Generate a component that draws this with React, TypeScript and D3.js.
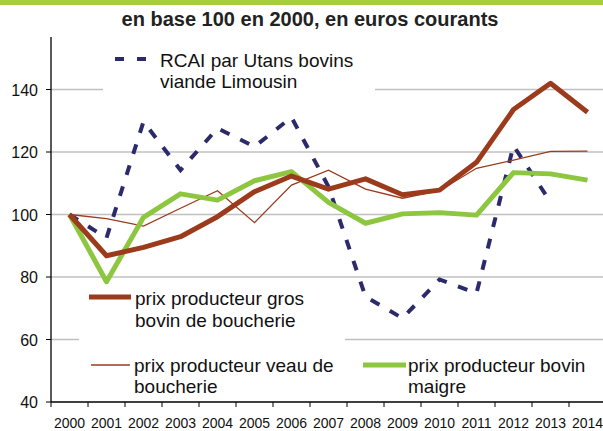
import React from "react";
import * as d3 from "d3";

const width = 603;
const height = 431;
const margin = { top: 37, right: -3, bottom: 29, left: 51 };

const years = ["2000", "2001", "2002", "2003", "2004", "2005", "2006", "2007", "2008", "2009", "2010", "2011", "2012", "2013", "2014"];
const yTicks = [40, 60, 80, 100, 120, 140];

// valeurs (base 100 en 2000)
const grosBovin = [100, 86.8, 89.5, 92.9, 99.3, 107.3, 112.3, 108.1, 111.4, 106.3, 107.8, 116.7, 133.6, 142.0, 132.7];
const veau = [100, 98.7, 96.3, 102.0, 107.6, 97.4, 109.4, 114.2, 108.1, 105.2, 107.6, 114.8, 117.4, 120.2, 120.3];
const maigre = [100, 78.5, 99.1, 106.6, 104.6, 110.8, 113.7, 103.9, 97.2, 100.2, 100.6, 99.8, 113.4, 113.0, 111.0];
const rcai = [100, 92.5, 129.7, 114.2, 127.6, 121.7, 131.1, 108.9, 73.7, 66.8, 79.2, 74.8, 122.0, 104.0];

const brown = "#9c3a1c";
const green = "#8dc63f";
const navy = "#2d2a6b";
const font = "'Liberation Sans', Arial, sans-serif";

export default function App() {
  const x = d3
    .scaleBand()
    .domain(years)
    .range([margin.left, width - margin.right]);
  const y = d3
    .scaleLinear()
    .domain([40, 156.8])
    .range([height - margin.bottom, margin.top]);

  const cx = (i: number) => (x(years[i]) as number) + x.bandwidth() / 2;
  const line = d3
    .line<number>()
    .x((d, i) => cx(i))
    .y(d => y(d));

  const x0 = margin.left;
  const yBottom = y(40);

  return (
    <div style={{ position: "fixed", left: 0, top: 0 }}>
      <svg width={width} height={height} style={{ display: "block", background: "#fff" }}>
        <rect x={0} y={0} width={width} height={5} fill="#a6ce39" />
        <text x={310} y={26} textAnchor="middle" fontFamily={font} fontWeight="bold" fontSize={20} fill="#222">
          en base 100 en 2000, en euros courants
        </text>

        {/* grille */}
        {yTicks.slice(1).map(t => (
          <line key={t} x1={x0} x2={width} y1={y(t)} y2={y(t)} stroke="#c0c0c0" strokeWidth={1.5} />
        ))}

        {/* légendes (fond blanc) */}
        <rect x={103} y={42} width={272} height={58} fill="#fff" />
        <rect x={79} y={285} width={266} height={62} fill="#fff" />

        {/* axes */}
        <line x1={x0} x2={x0} y1={margin.top} y2={yBottom} stroke="#000" strokeWidth={1.3} />
        <line x1={x0} x2={width} y1={yBottom} y2={yBottom} stroke="#000" strokeWidth={1.3} />
        {yTicks.map(t => (
          <g key={t}>
            <line x1={x0 - 5} x2={x0} y1={y(t)} y2={y(t)} stroke="#000" strokeWidth={1} />
            <text x={38} y={y(t) + 6} textAnchor="end" fontFamily={font} fontSize={16} fill="#111">
              {t}
            </text>
          </g>
        ))}
        {years.map((yr, i) => (
          <g key={yr}>
            <line x1={x(yr) as number} x2={x(yr) as number} y1={yBottom} y2={yBottom + 5} stroke="#000" strokeWidth={1} />
            <text x={cx(i)} y={428} textAnchor="middle" fontFamily={font} fontSize={14} fill="#111">
              {yr}
            </text>
          </g>
        ))}

        {/* séries */}
        <path d={line(rcai) || ""} fill="none" stroke={navy} strokeWidth={4} strokeDasharray="10,12" />
        <path d={line(veau) || ""} fill="none" stroke={brown} strokeWidth={1.3} />
        <path d={line(maigre) || ""} fill="none" stroke={green} strokeWidth={5} strokeLinejoin="round" />
        <path d={line(grosBovin) || ""} fill="none" stroke={brown} strokeWidth={5} strokeLinejoin="round" />

        {/* légende */}
        <g fontFamily={font} fontSize={19} fill="#111">
          <line x1={115} x2={146} y1={59} y2={59} stroke={navy} strokeWidth={4} strokeDasharray="9,13" />
          <text x={160} y={67}>RCAI par Utans bovins</text>
          <text x={160} y={88}>viande Limousin</text>

          <line x1={89} x2={131} y1={297} y2={297} stroke={brown} strokeWidth={5} />
          <text x={135} y={305}>prix producteur gros</text>
          <text x={135} y={327}>bovin de boucherie</text>

          <line x1={91} x2={130} y1={365} y2={365} stroke={brown} strokeWidth={1.3} />
          <text x={134} y={372}>prix producteur veau de</text>
          <text x={134} y={393}>boucherie</text>

          <line x1={363} x2={406} y1={365} y2={365} stroke={green} strokeWidth={5} />
          <text x={408} y={372}>prix producteur bovin</text>
          <text x={408} y={393}>maigre</text>
        </g>
      </svg>
    </div>
  );
}
